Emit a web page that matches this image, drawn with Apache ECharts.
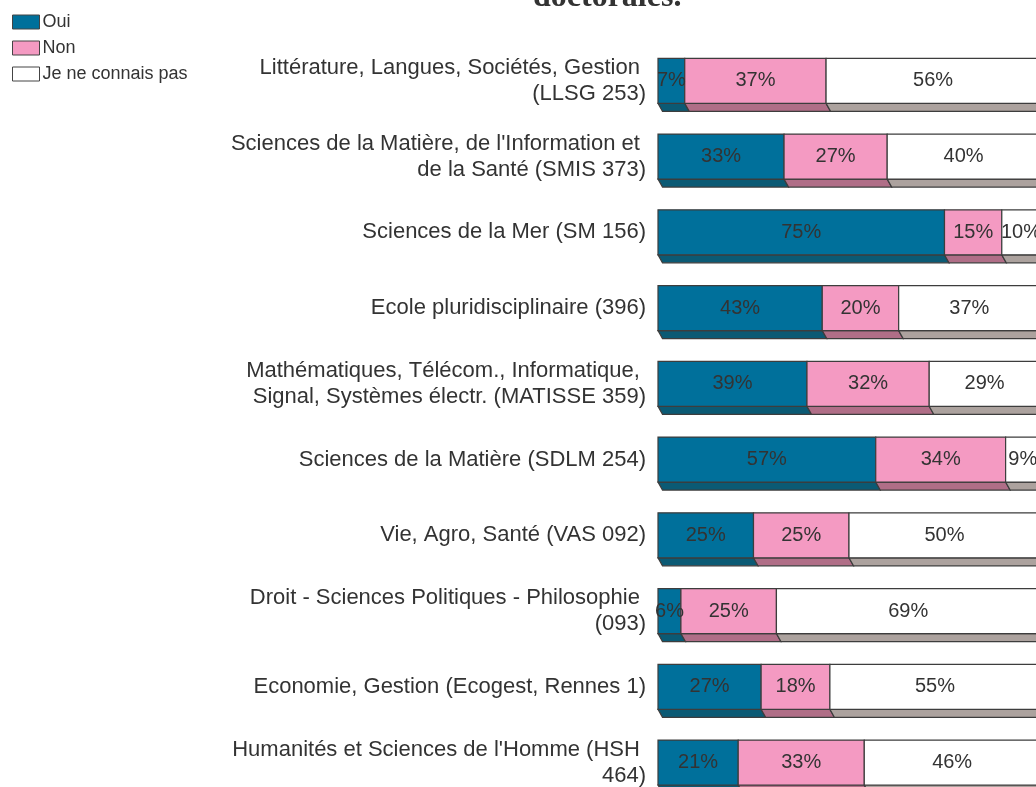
<!DOCTYPE html>
<html><head><meta charset="utf-8">
<script src="https://cdn.jsdelivr.net/npm/echarts@6/dist/echarts.min.js"></script>
<style>html,body{margin:0;padding:0;background:#fff}#c{width:1036px;height:787px}</style>
</head><body><div id="c"></div>
<script>
const categories = [
  "Littérature, Langues, Sociétés, Gestion \n(LLSG 253)",
  "Sciences de la Matière, de l'Information et \nde la Santé (SMIS 373)",
  "Sciences de la Mer (SM 156)",
  "Ecole pluridisciplinaire (396)",
  "Mathématiques, Télécom., Informatique, \nSignal, Systèmes électr. (MATISSE 359)",
  "Sciences de la Matière (SDLM 254)",
  "Vie, Agro, Santé (VAS 092)",
  "Droit - Sciences Politiques - Philosophie \n(093)",
  "Economie, Gestion (Ecogest, Rennes 1)",
  "Humanités et Sciences de l'Homme (HSH \n464)"
];
const oui = [7, 33, 75, 43, 39, 57, 25, 6, 27, 21];
const non = [37, 27, 15, 20, 32, 34, 25, 25, 18, 33];
const nsp = [56, 40, 10, 37, 29, 9, 50, 69, 55, 46];
const seriesNames = ['Oui', 'Non', 'Je ne connais pas'];
const titleText = 'doctorales.';

const frontColors = ['#00709b', '#f49ac2', '#ffffff'];
const sideColors = ['#0b5a74', '#b06e87', '#aca29e'];
const values = [oui, non, nsp];

function buildData(k) {
  return categories.map((c, i) => {
    let s = 0;
    for (let j = 0; j < k; j++) s += values[j][i];
    return [i, s, s + values[k][i], values[k][i]];
  });
}

function renderItem(params, api) {
  const k = params.seriesIndex;
  const cat = api.value(0), s = api.value(1), e = api.value(2), v = api.value(3);
  const p0 = api.coord([s, cat]);
  const p1 = api.coord([e, cat]);
  const band = api.size([0, 1])[1];
  const h = band * 0.594;
  const y0 = p0[1] - h / 2, y1 = p0[1] + h / 2;
  const dx = 4.5, dy = 8;
  return {
    type: 'group',
    children: [
      { type: 'polygon', z2: 1,
        shape: { points: [[p0[0], y1], [p1[0], y1], [p1[0] + dx, y1 + dy], [p0[0] + dx, y1 + dy]] },
        style: { fill: sideColors[k], stroke: '#3d3d3d', lineWidth: 1.2 } },
      { type: 'rect', z2: 2,
        shape: { x: p0[0], y: y0, width: p1[0] - p0[0], height: h },
        style: { fill: frontColors[k], stroke: '#3d3d3d', lineWidth: 1.2 } },
      { type: 'text', z2: 100,
        style: { text: v + '%', x: (p0[0] + p1[0]) / 2, y: p0[1], align: 'center', verticalAlign: 'middle',
                 fontSize: 20, fontFamily: 'Liberation Sans, Arial, sans-serif', fill: '#333' } }
    ]
  };
}

const chart = echarts.init(document.getElementById('c'), null, { renderer: 'canvas' });
chart.setOption({
  animation: false,
  backgroundColor: '#ffffff',
  title: {
    text: titleText, left: 533, top: -18, padding: 0,
    textStyle: { fontFamily: 'Liberation Serif, Times New Roman, serif', fontWeight: 'bold', fontSize: 32, color: '#333' }
  },
  legend: {
    orient: 'vertical', left: 12, top: 13, padding: 0,
    itemWidth: 27, itemHeight: 14, itemGap: 8,
    textStyle: { fontFamily: 'Liberation Sans, Arial, sans-serif', fontSize: 18, color: '#333', lineHeight: 18, padding: [0, 0, 0, -2] },
    data: seriesNames.map((n, k) => ({ name: n, icon: 'rect',
      itemStyle: { color: frontColors[k], borderColor: '#444', borderWidth: 1 } }))
  },
  grid: { left: 658, top: 43, width: 382, height: 757.4, containLabel: false, outerBoundsMode: 'none' },
  xAxis: { type: 'value', min: 0, max: 100, show: false },
  yAxis: {
    type: 'category', data: categories, inverse: true,
    axisLine: { show: false }, axisTick: { show: false }, splitLine: { show: false },
    axisLabel: { fontFamily: 'Liberation Sans, Arial, sans-serif', fontSize: 22, lineHeight: 26, color: '#333', margin: 12, align: 'right' }
  },
  series: seriesNames.map((n, k) => ({
    name: n, type: 'custom', renderItem: renderItem,
    itemStyle: { color: frontColors[k] },
    encode: { x: [1, 2], y: 0 },
    data: buildData(k)
  }))
});
</script>
</body></html>
